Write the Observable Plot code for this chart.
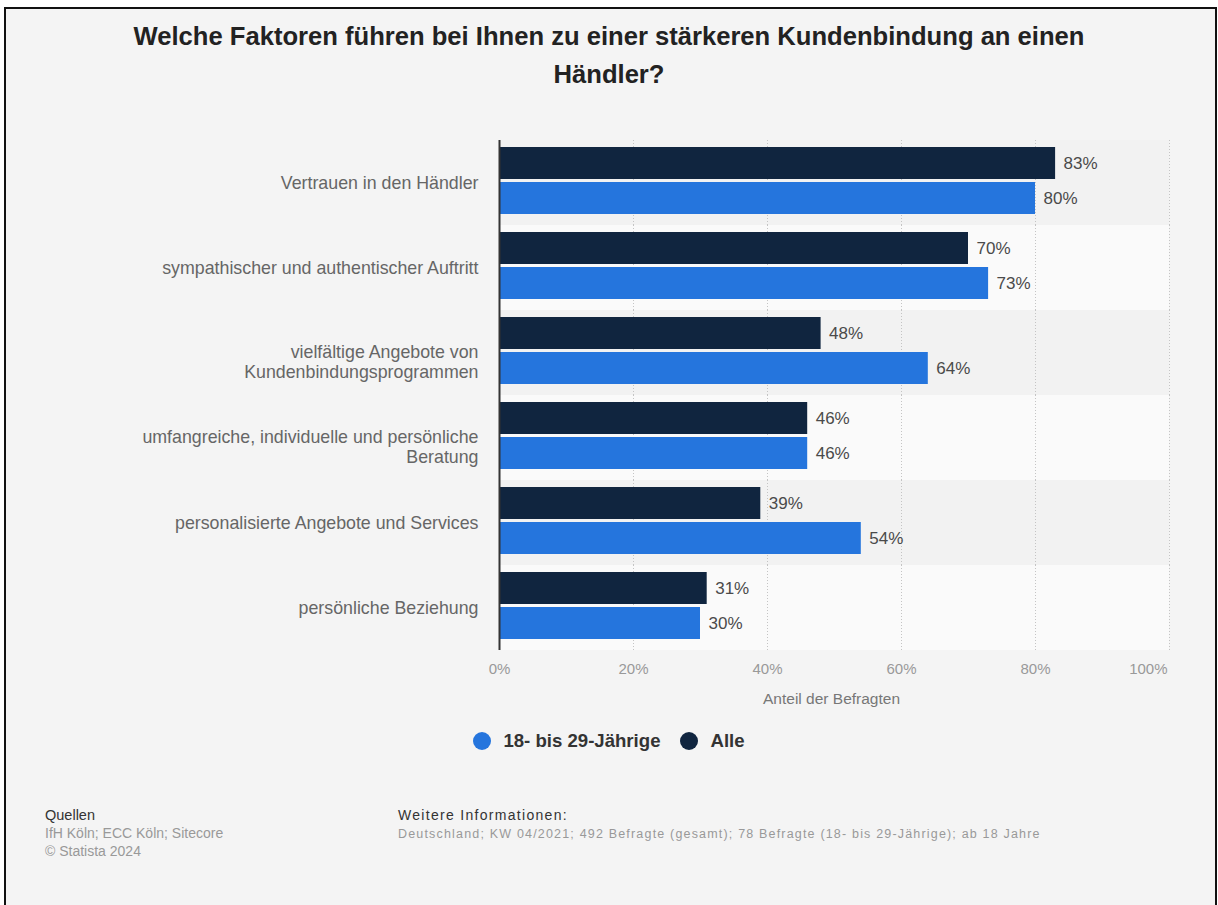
<!DOCTYPE html>
<html>
<head>
<meta charset="utf-8">
<script src="https://cdn.jsdelivr.net/npm/d3@7"></script>
<script src="https://cdn.jsdelivr.net/npm/@observablehq/plot@0.6"></script>
<style>
  html, body { margin: 0; padding: 0; background: #ffffff; }
  body { width: 1218px; height: 905px; position: relative; overflow: hidden; font-family: "Liberation Sans", Arial, Helvetica, sans-serif; }
  #frame { position: absolute; left: 4px; top: 7px; width: 1213px; height: 905px; box-sizing: border-box;
           border-top: 2px solid #111; border-left: 2px solid #111; border-right: 2px solid #111; background: #f4f4f4; }
  .abs { position: absolute; white-space: nowrap; }
  #title { left: 0; width: 1218px; top: 17px; text-align: center; font-weight: bold; font-size: 25.6px; line-height: 38px; color: #222; }
  #chart { position: absolute; left: 0; top: 130px; }
  #xlabel { top: 690px; font-size: 15.5px; line-height: 18px; color: #777; }
  #legend { left: 0; width: 1218px; top: 729px; height: 24px; display: flex; justify-content: center; align-items: center; font-weight: bold; font-size: 18.6px; color: #333; }
  #legend .item { display: flex; align-items: center; margin: 0 10px; }
  #legend .dot { width: 18px; height: 18px; border-radius: 50%; margin-right: 12px; }
  .foot { font-size: 14.5px; line-height: 18px; }
</style>
</head>
<body>
<div id="frame"></div>
<div id="title" class="abs">Welche Faktoren führen bei Ihnen zu einer stärkeren Kundenbindung an einen<br>Händler?</div>
<div id="chart"></div>
<div id="xlabel" class="abs"></div>
<div id="legend" class="abs"></div>
<div class="abs foot" style="left:45px; top:806px; color:#333;">Quellen</div>
<div class="abs foot" style="left:45px; top:824px; color:#999; font-size:14px;">IfH Köln; ECC Köln; Sitecore</div>
<div class="abs foot" style="left:45px; top:842px; color:#999; font-size:14px;">© Statista 2024</div>
<div class="abs foot" style="left:398px; top:806px; color:#333; font-size:14px; letter-spacing:1.3px;">Weitere Informationen:</div>
<div class="abs foot" style="left:398px; top:825px; color:#999; font-size:12.5px; letter-spacing:1.18px;">Deutschland; KW 04/2021; 492 Befragte (gesamt); 78 Befragte (18- bis 29-Jährige); ab 18 Jahre</div>
<script>
// ---- data ----
const categories = [
  "Vertrauen in den Händler",
  "sympathischer und authentischer Auftritt",
  "vielfältige Angebote von\nKundenbindungsprogrammen",
  "umfangreiche, individuelle und persönliche\nBeratung",
  "personalisierte Angebote und Services",
  "persönliche Beziehung"
];
const seriesNames = ["Alle", "18- bis 29-Jährige"];
const valuesAlle = [83, 70, 48, 46, 39, 31];
const values1829 = [80, 73, 64, 46, 54, 30];
const seriesColors = ["#10253f", "#2575dd"];
const xTicks = [0, 20, 40, 60, 80, 100];
const xAxisLabel = "Anteil der Befragten";
const legendOrder = ["18- bis 29-Jährige", "Alle"];

// ---- build rows ----
const rows = categories.flatMap((c, i) => [
  {category: c, series: seriesNames[0], value: valuesAlle[i]},
  {category: c, series: seriesNames[1], value: values1829[i]}
]);
const bands = categories.map((c, i) => ({category: c, i}));
const singleCats = categories.filter(c => !c.includes("\n"));
const multiCats = categories.filter(c => c.includes("\n"));
const font = "Liberation Sans, Arial, Helvetica, sans-serif";

const plot = Plot.plot({
  width: 1218,
  height: 580,
  marginLeft: 499,
  marginRight: 49,
  marginTop: 10,
  marginBottom: 60,
  style: {background: "transparent", fontFamily: font, overflow: "visible"},
  x: {domain: [0, 100]},
  fy: {domain: categories, padding: 0, label: null, axis: null},
  y: {domain: seriesNames, axis: null, paddingInner: 0.0857, paddingOuter: 0.257, align: 0.39},
  color: {domain: seriesNames, range: seriesColors},
  marks: [
    Plot.barX(bands.filter(d => d.i % 2 === 0), {fy: "category", x1: 0, x2: 100, fill: "#f2f2f2"}),
    Plot.barX(bands.filter(d => d.i % 2 === 1), {fy: "category", x1: 0, x2: 100, fill: "#fafafa"}),
    Plot.ruleX(xTicks.slice(1), {stroke: "#c4c4c4", strokeWidth: 1, strokeDasharray: "1,2"}),
    Plot.barX(rows, {fy: "category", y: "series", x: "value", fill: "series"}),
    Plot.text(rows, {fy: "category", y: "series", x: "value", text: d => d.value + "%", textAnchor: "start", dx: 8, fill: "#4a4a4a", fontSize: 17}),
    Plot.ruleX([0], {stroke: "#333", strokeWidth: 2}),
    Plot.text(singleCats, {fy: d => d, text: d => d, frameAnchor: "left", textAnchor: "end", dx: -21, fontSize: 17.8, fill: "#666"}),
    Plot.text(multiCats, {fy: d => d, text: d => d, frameAnchor: "left", textAnchor: "end", dx: -21, dy: 9, fontSize: 17.8, fill: "#666", lineHeight: 1.1}),
    Plot.axisX(xTicks.slice(0, -1), {anchor: "bottom", tickSize: 0, tickPadding: 13, fontSize: 15, color: "#999", tickFormat: d => d + "%", label: null}),
    Plot.axisX(xTicks.slice(-1), {anchor: "bottom", tickSize: 0, tickPadding: 13, fontSize: 15, color: "#999", tickFormat: d => d + "%", label: null, textAnchor: "end", dx: -2})
  ]
});
document.getElementById("chart").appendChild(plot);

// axis title
const xl = document.getElementById("xlabel");
xl.textContent = xAxisLabel;
xl.style.left = "763px";

// legend
const leg = document.getElementById("legend");
legendOrder.forEach(name => {
  const item = document.createElement("div");
  item.className = "item";
  const dot = document.createElement("div");
  dot.className = "dot";
  dot.style.background = seriesColors[seriesNames.indexOf(name)];
  const t = document.createElement("span");
  t.textContent = name;
  item.appendChild(dot);
  item.appendChild(t);
  leg.appendChild(item);
});
</script>
</body>
</html>
